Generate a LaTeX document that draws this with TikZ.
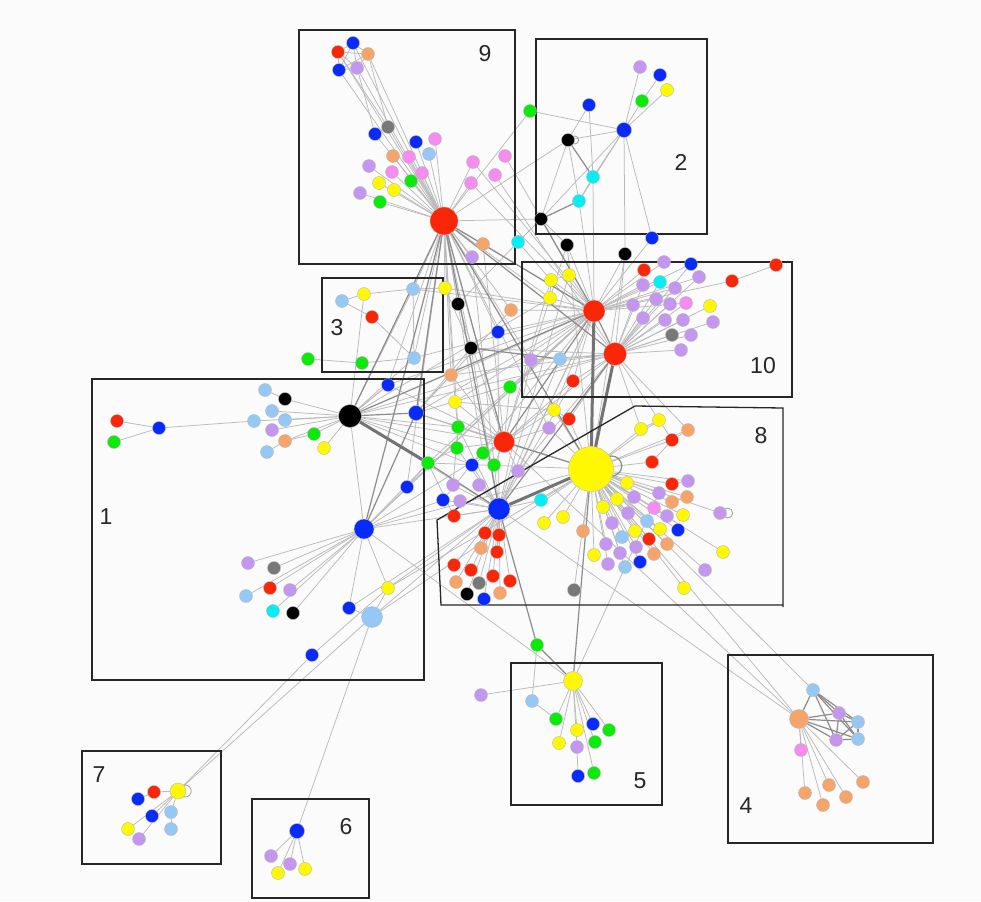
\documentclass[tikz,border=0pt]{standalone}
\usepackage{fontspec}
\setmainfont{Liberation Sans}
\pgfdeclarelayer{edges}
\pgfsetlayers{edges,main}
\definecolor{cR}{RGB}{250,38,8}
\definecolor{cB}{RGB}{8,42,250}
\definecolor{cY}{RGB}{255,248,0}
\definecolor{cG}{RGB}{10,235,10}
\definecolor{cLB}{RGB}{150,200,245}
\definecolor{cL}{RGB}{196,150,240}
\definecolor{cP}{RGB}{246,140,240}
\definecolor{cO}{RGB}{245,165,105}
\definecolor{cGr}{RGB}{120,120,120}
\definecolor{cC}{RGB}{0,240,245}
\definecolor{cK}{RGB}{0,0,0}
\definecolor{bgc}{RGB}{251,251,251}
\tikzset{
  dotn/.style={circle, draw=black!28, line width=0.4pt, inner sep=0pt, minimum size=13pt},
  ln/.style={draw=black!27, line width=0.75pt},
  lnm/.style={draw=black!45, line width=1.2pt},
  lnt/.style={draw=black!55, line width=3pt},
  grp/.style={draw=black!85, line width=1.3pt},
  lbl/.style={font=\fontsize{23}{23}\selectfont, text=black!85, inner sep=0pt}
}
\begin{document}
\begin{tikzpicture}[x=1pt,y=-1pt]
\useasboundingbox (0,0) rectangle (981,901);
% group boxes
\draw[grp] (299,30) rectangle (515,264);
\draw[grp] (536,39) rectangle (707,234);
\draw[grp] (522,262) rectangle (792,397);
\draw[grp] (322,278) rectangle (443,372);
\draw[grp] (92,379) rectangle (424,680);
\draw[grp] (635,406) -- (783,408) -- (783,607);
\draw[grp] (783,605) -- (441,605) -- (437,520) -- (635,406);
\draw[grp] (511,663) rectangle (662,805);
\draw[grp] (728,655) rectangle (933,843);
\draw[grp] (82,751) rectangle (221,864);
\draw[grp] (252,799) rectangle (369,898);
% labels
\node[lbl] (L9) at (485,54) {9};
\node[lbl] (L2) at (681,162) {2};
\node[lbl] (L3) at (337,328) {3};
\node[lbl] (L10) at (763,366) {10};
\node[lbl] (L1) at (106,517) {1};
\node[lbl] (L8) at (761,436) {8};
\node[lbl] (L5) at (640,781) {5};
\node[lbl] (L4) at (746,806) {4};
\node[lbl] (L7) at (99,775) {7};
\node[lbl] (L6) at (346,827) {6};
% small nodes
\foreach \nn/\xx/\yy/\cc in {
a1/338/52/cR, a2/353/43/cB, a3/368/54/cO, a4/339/70/cB, a5/357/68/cL, a6/388/127/cGr, a7/375/134/cB, a8/416/142/cB, a9/435/139/cP, a10/393/156/cO, a11/409/157/cP, a12/429/154/cLB, a13/369/166/cL, a14/392/172/cP, a15/422/173/cP, a16/411/181/cG, a17/379/183/cY, a18/394/190/cY, a19/360/193/cL, a20/380/202/cG, a21/473/162/cP, a22/505/156/cP, a23/471/183/cP, a24/495/175/cP, a25/483/244/cO, a26/472/257/cL, a27/518/242/cC, a28/530/111/cG,
b1/640/67/cL, b2/660/75/cB, b3/667/90/cY, b4/642/101/cG, b5/589/105/cB, b6/568/140/cK, b7/593/177/cC, b8/579/201/cC, b9/541/219/cK, b10/652/238/cB, b11/567/245/cK, b12/625/254/cK,
c1/664/262/cL, c2/691/264/cB, c3/644/270/cR, c4/776/265/cR, c5/732/281/cR, c6/699/277/cL, c7/660/282/cC, c8/643/285/cL, c9/675/288/cL, c10/551/280/cY, c11/569/275/cY, c12/550/298/cY, c13/656/299/cL, c14/633/305/cL, c15/670/304/cL, c16/686/303/cP, c17/710/306/cY, c18/643/318/cL, c19/665/320/cL, c20/683/320/cL, c21/713/322/cL, c22/672/335/cGr, c23/691/335/cL, c24/681/350/cL, c25/531/360/cL, c26/560/359/cLB, c27/573/381/cR, c28/511/310/cO, c29/510/387/cG,
d1/342/301/cLB, d2/364/294/cY, d3/413/289/cLB, d4/372/317/cR, d5/445/288/cY, d6/458/304/cK, d7/498/332/cB, d8/471/348/cK, d9/414/358/cLB, d10/308/359/cG, d11/362/363/cG, d12/451/375/cO, d13/388/385/cB,
e1/265/390/cLB, e2/285/399/cK, e3/272/411/cLB, e4/254/421/cLB, e5/285/420/cLB, e6/272/430/cL, e7/285/441/cO, e8/267/452/cLB, e9/314/434/cG, e10/324/448/cY, e12/117/421/cR, e13/114/442/cG, e14/159/428/cB, e15/428/463/cG, e16/407/487/cB, e17/248/563/cL, e18/274/568/cGr, e19/270/588/cR, e20/290/590/cL, e21/246/596/cLB, e22/273/611/cC, e23/293/613/cK, e24/388/588/cY, e25/349/608/cB, e26/312/655/cB,
f1/455/402/cY, f2/458/427/cG, f3/457/448/cG, f4/483/453/cG, f5/494/465/cG, f6/472/465/cB, f7/518/471/cL, f8/453/485/cL, f9/479/485/cL, f10/443/500/cB, f11/460/501/cL, f12/454/516/cR, f13/541/500/cC, f14/554/410/cY, f15/569/419/cR, f16/549/428/cL, f17/563/517/cY, f18/544/523/cY,
g1/641/429/cY, g2/659/420/cY, g3/688/430/cO, g4/672/440/cR, g5/652/462/cR, g6/627/483/cY, g7/672/484/cR, g8/688/481/cL, g9/634/497/cL, g10/659/493/cL, g11/672/502/cO, g12/687/497/cO, g13/617/499/cY, g14/603/507/cY, g15/654/508/cP, g16/667/516/cL, g17/683/515/cY, g18/720/513/cL, g19/628/513/cL, g20/612/523/cL, g21/647/521/cLB, g22/635/531/cY, g23/660/529/cY, g24/678/530/cB, g25/583/531/cO, g26/622/537/cLB, g27/649/539/cR, g28/667/544/cO, g29/606/544/cL, g30/636/547/cL, g31/620/553/cL, g32/594/555/cY, g33/654/554/cO, g34/723/552/cY, g35/608/564/cL, g36/625/567/cLB, g37/640/562/cB, g38/705/570/cL, g39/684/588/cY, g40/574/590/cGr,
h1/485/533/cR, h2/499/535/cR, h3/481/548/cO, h4/497/552/cR, h5/454/565/cR, h6/471/570/cR, h7/493/576/cR, h8/510/581/cR, h9/456/582/cO, h10/479/583/cGr, h11/500/593/cO, h12/467/594/cK, h13/484/599/cB,
i0/537/645/cG, i1/532/701/cLB, i2/556/719/cG, i3/593/724/cB, i4/609/730/cG, i5/577/730/cY, i6/559/743/cY, i7/577/747/cL, i8/595/742/cG, i9/578/776/cB, i10/594/773/cG, i11/481/695/cL,
j1/813/690/cLB, j2/839/713/cL, j3/858/722/cLB, j4/836/740/cL, j5/858/739/cLB, j6/801/750/cP, j7/829/785/cO, j8/863/782/cO, j9/805/793/cO, j10/846/797/cO, j11/823/805/cO,
k1/154/792/cR, k2/138/799/cB, k3/152/816/cB, k4/171/812/cLB, k5/171/829/cLB, k6/128/829/cY, k7/139/839/cL,
l1/271/856/cL, l2/290/864/cL, l3/278/873/cY, l4/305/869/cY}
  \node[dotn, fill=\cc] (\nn) at (\xx,\yy) {};
% hub nodes
\foreach \nn/\xx/\yy/\cc/\ss in {
R9/444/221/cR/28, B2/624/130/cB/15, RA/594/311/cR/22, RB/615/354/cR/23, K1/350/416/cK/23, e11/416/413/cB/15, B1/364/529/cB/20, LB1/372/617/cLB/21, R4/504/442/cR/21, BH/499/509/cB/22, Y8/591/469/cY/45, Y5/573/681/cY/19, O4/799/719/cO/19, Y7/178/791/cY/16, B6/297/831/cB/15}
  \node[dotn, fill=\cc, minimum size=\ss pt] (\nn) at (\xx,\yy) {};
\begin{pgfonlayer}{edges}
\fill[bgc] (0,0) rectangle (981,901);
\foreach \pa/\pb in {
R9/a1, R9/a2, R9/a3, R9/a4, R9/a5, R9/a6, R9/a7, R9/a8, R9/a9, R9/a10, R9/a11, R9/a12, R9/a13, R9/a14, R9/a15, R9/a16, R9/a17, R9/a18, R9/a19, R9/a20, R9/a21, R9/a23, R9/a25, R9/a26, a6/a7, a1/a2, a1/a3, a1/a4, a1/a5, a2/a3, a2/a4, a2/a5, a3/a4, a3/a5, a4/a5, a1/a6, a3/a6, a5/a7,
a22/RA, a24/RB, a21/RA, a23/RA, R9/a28, a28/B2, R9/b9, R9/c28, R9/d6, R9/d8, R9/d3, R9/d9, R9/d13, R9/d5, R9/d7, R9/e16, R9/f1, R9/d12,
B2/b1, B2/b4, b4/b2, B2/b3, b5/b6, b5/b7, b6/B2, b6/b8, b6/b9, b6/R9, B2/b7, B2/b8, B2/b9, B2/b12, B2/b10, b7/b8, b9/a27, b7/RA, b8/RA, b10/RA, b12/RA, b12/RB, b11/RA, b11/Y8, b9/b11, a27/d6, a27/RB, a25/RA, a26/BH, a25/R4,
RA/c10, RA/c11, RA/c12, c10/c11, c10/c12, RA/c3, RA/c1, RA/c2, RA/c7, RA/c8, RA/c14, RA/c13, RA/c5, c5/c4, RA/c6, RA/c9, RA/c16, RB/c8, RB/c9, RB/c13, RB/c14, RB/c15, RB/c16, RB/c17, RB/c18, RB/c19, RB/c20, RB/c21, RB/c22, RB/c23, RB/c24, RB/c6, RB/c2, RB/c7, RA/c25, RB/c26, RA/c27, RB/c27, RA/c28, RA/c29, c25/RB, RA/d7, RA/d5, RA/BH, RA/f14, RB/f15, RB/R4, RB/d8, RA/d12, RB/g2, RB/g3, RB/g1, c10/R4, c12/K1, c11/BH,
d1/d2, d2/d3, d1/d4, d4/d9, d3/d9, d3/d5, d10/d11, d11/d9, d3/K1, d9/K1, d6/R4, d8/BH, d8/e11, d12/R4, d12/e11, d13/K1, d5/d8, d7/BH, d2/K1,
K1/e2, e1/e2, K1/e3, K1/e5, K1/e4, K1/e6, K1/e7, e7/e8, K1/e9, K1/e10, e9/e7, e4/e14, e14/e12, e14/e13, K1/B1, K1/d13, K1/f2, K1/f3, K1/R4, K1/BH, K1/f6, e11/R9, e11/R4, e11/RA, e11/Y8, e11/f2, e16/B1, e16/e15,
B1/e17, B1/e18, B1/e19, B1/e20, B1/e21, B1/e22, B1/e23, B1/e24, B1/e25, B1/Y8, B1/R4, B1/BH, B1/e15, B1/Y5, B1/f10, LB1/e24, LB1/e25, LB1/Y7, LB1/B6, LB1/Y8, LB1/BH, Y7/e26, e26/e24, e24/Y8, e25/BH, e24/BH,
R4/f1, R4/f2, R4/f3, R4/f4, R4/f5, R4/f6, R4/f7, R4/c29, R4/R9, f2/f1, f2/f3, f4/f5, f3/BH, f2/BH, f6/BH, f7/BH, f8/BH, f9/BH, f10/BH, f11/BH, f12/BH, f13/BH, f13/Y8, f14/Y8, f15/Y8, f16/Y8, f17/Y8, f18/Y8, f14/f15, f1/f14, f16/R4, f8/f2, f3/e15, f12/e15,
K1/RB, K1/c25, e11/RB, e11/c28, d9/RA, d3/RA, R9/f2, R9/f4, R9/c25, R9/c12, R9/f16, d13/RA, d13/R4, e15/RA, e15/Y8, f1/RA, d12/RB, B1/RA, e16/RA, f10/RA, c25/BH, c26/BH, c27/BH, f14/R4, R4/c27, RA/f7, RB/f7, b11/R4, b12/Y8,
BH/h1, BH/h2, BH/h3, BH/h4, BH/h5, BH/h6, BH/h7, BH/h8, BH/h9, BH/h10, BH/h11, BH/h12, BH/h13, h1/h3, h2/h4, BH/O4,
Y8/g1, Y8/g2, Y8/g3, Y8/g4, Y8/g5, Y8/g6, Y8/g7, Y8/g8, Y8/g9, Y8/g10, Y8/g11, Y8/g12, Y8/g13, Y8/g14, Y8/g15, Y8/g16, Y8/g17, Y8/g18, Y8/g19, Y8/g20, Y8/g21, Y8/g22, Y8/g23, Y8/g24, Y8/g25, Y8/g26, Y8/g27, Y8/g28, Y8/g29, Y8/g30, Y8/g31, Y8/g32, Y8/g33, Y8/g34, Y8/g35, Y8/g36, Y8/g37, Y8/g38, Y8/g39, Y8/g40,
g1/g2, g2/g4, g3/g4, g4/g5, g7/g8, g11/g12, g15/g16, Y8/O4, R4/O4, Y8/j1,
Y5/i2, Y5/i3, Y5/i4, Y5/i5, Y5/i6, Y5/i7, Y5/i8, Y5/i10, i7/i9, Y5/i11, i0/i1, i1/i2, Y5/g10,
O4/j6, O4/j7, O4/j8, O4/j9, O4/j10, O4/j11,
Y7/k1, k1/k2, Y7/k3, Y7/k4, k4/k5, Y7/k6, Y7/k7,
B6/l1, B6/l2, B6/l3, B6/l4}
  \draw[ln] (\pa) -- (\pb);
\foreach \pa/\pb in {
R9/K1, R9/RA, R9/RB, R9/Y8, R9/R4, R9/BH, R9/e11, R9/B1, b6/b7, b8/b9, b9/RA, RA/RB, RA/K1, RA/R4, RB/BH, K1/e11, e11/B1, d8/c26, R4/Y8, BH/e15, BH/i0, i0/Y5, Y5/Y8,
O4/j1, O4/j2, O4/j3, O4/j4, O4/j5, j1/j2, j1/j3, j1/j4, j1/j5, j2/j3, j2/j4, j2/j5, j3/j4, j3/j5, j4/j5}
  \draw[lnm] (\pa) -- (\pb);
\foreach \pa/\pb in {RA/Y8, RB/Y8, BH/Y8, K1/e15}
  \draw[lnt] (\pa) -- (\pb);
% self loops
\draw[lnm] ([shift={(-2,-3)}]Y8.east) circle[radius=10];
\draw[ln, draw=black!40] ([shift={(-1,0)}]Y7.east) circle[radius=6];
\draw[ln, draw=black!40] ([shift={(1,0)}]g18.east) circle[radius=5];
\draw[ln, draw=black!40] ([shift={(0,0)}]b6.east) circle[radius=4];
\end{pgfonlayer}
\end{tikzpicture}
\end{document}
